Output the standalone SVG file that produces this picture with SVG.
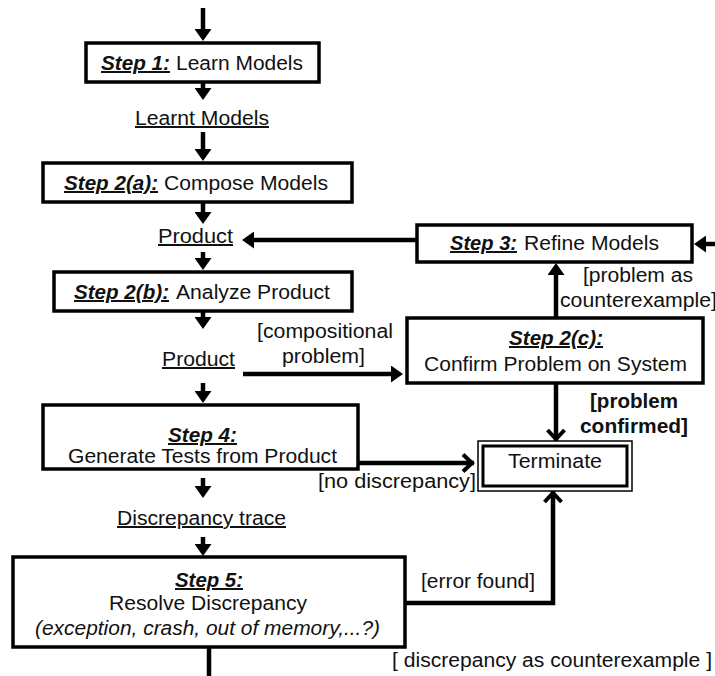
<svg xmlns="http://www.w3.org/2000/svg" width="715" height="676" viewBox="0 0 715 676">
<style>
  .bg{fill:#fff}
  .box{fill:#fff;stroke:#000;stroke-width:3.5}
  .t{font-family:"Liberation Sans",Arial,sans-serif;font-size:20px;fill:#111}
  .st{font-weight:bold;font-style:italic;text-decoration:underline}
  .u{text-decoration:underline}
  .b{font-weight:bold}
  .i{font-style:italic}
  .c{fill:none;stroke:#000;stroke-width:4.5}
</style>
<defs>
  <marker id="ah" viewBox="0 0 12 17" refX="2" refY="8.5" markerWidth="12" markerHeight="17" markerUnits="userSpaceOnUse" orient="auto">
    <path d="M0,0 L12,8.5 L0,17 z" fill="#000"/>
  </marker>
  <marker id="av" viewBox="0 0 14 20" refX="12" refY="10" markerWidth="14" markerHeight="20" markerUnits="userSpaceOnUse" orient="auto" overflow="visible">
    <path d="M1,1.5 L10,10 L1,18.5" fill="none" stroke="#000" stroke-width="4"/>
  </marker>
</defs>
<rect class="bg" x="0" y="0" width="715" height="676"/>

<g id="connectors">
  <line class="c" x1="203" y1="8" x2="203" y2="31" marker-end="url(#ah)"/>
  <line class="c" x1="203" y1="82" x2="203" y2="90" marker-end="url(#ah)"/>
  <line class="c" x1="203" y1="132" x2="203" y2="151" marker-end="url(#ah)"/>
  <line class="c" x1="203" y1="202" x2="203" y2="214" marker-end="url(#ah)"/>
  <line class="c" x1="203" y1="252" x2="203" y2="260" marker-end="url(#ah)"/>
  <line class="c" x1="203" y1="311" x2="203" y2="319" marker-end="url(#ah)"/>
  <line class="c" x1="203" y1="383" x2="203" y2="393" marker-end="url(#ah)"/>
  <line class="c" x1="203" y1="478" x2="203" y2="488" marker-end="url(#ah)"/>
  <line class="c" x1="203" y1="537" x2="203" y2="546" marker-end="url(#ah)"/>
  <line class="c" x1="417" y1="240" x2="252" y2="240" marker-end="url(#ah)"/>
  <line class="c" x1="715" y1="244" x2="704" y2="244" marker-end="url(#ah)"/>
  <line class="c" x1="556" y1="318" x2="556" y2="273" marker-end="url(#ah)"/>
  <line class="c" x1="243" y1="374" x2="393" y2="374" marker-end="url(#ah)"/>
  <line class="c" x1="556" y1="383" x2="556" y2="441" marker-end="url(#av)"/>
  <line class="c" x1="358" y1="463" x2="474" y2="463" marker-end="url(#av)"/>
  <polyline class="c" points="405,603 553,603 553,491" marker-end="url(#av)"/>
  <line class="c" x1="209" y1="647" x2="209" y2="676"/>
</g>

<g id="step1">
  <rect class="box" x="86" y="43" width="233" height="39"/>
  <text class="t st" x="101" y="70" textLength="69" lengthAdjust="spacingAndGlyphs">Step 1:</text>
  <text class="t" x="176" y="70" textLength="127" lengthAdjust="spacingAndGlyphs">Learn Models</text>
</g>
<g id="learnt-models">
  <text class="t u" x="135" y="125" textLength="134" lengthAdjust="spacingAndGlyphs">Learnt Models</text>
</g>
<g id="step2a">
  <rect class="box" x="43" y="163" width="309" height="39"/>
  <text class="t st" x="64" y="190" textLength="94" lengthAdjust="spacingAndGlyphs">Step 2(a):</text>
  <text class="t" x="164" y="190" textLength="164" lengthAdjust="spacingAndGlyphs">Compose Models</text>
</g>
<g id="product1">
  <text class="t u" x="158" y="243" textLength="75" lengthAdjust="spacingAndGlyphs">Product</text>
</g>
<g id="step2b">
  <rect class="box" x="54" y="272" width="298" height="39"/>
  <text class="t st" x="74" y="299" textLength="95" lengthAdjust="spacingAndGlyphs">Step 2(b):</text>
  <text class="t" x="176" y="299" textLength="154" lengthAdjust="spacingAndGlyphs">Analyze Product</text>
</g>
<g id="product2">
  <text class="t u" x="162" y="366" textLength="73" lengthAdjust="spacingAndGlyphs">Product</text>
</g>
<g id="label-compositional">
  <text class="t" x="257" y="338" textLength="136" lengthAdjust="spacingAndGlyphs">[compositional</text>
  <text class="t" x="282" y="363" textLength="83" lengthAdjust="spacingAndGlyphs">problem]</text>
</g>
<g id="step3">
  <rect class="box" x="417" y="225" width="275" height="37"/>
  <text class="t st" x="450" y="250" textLength="67" lengthAdjust="spacingAndGlyphs">Step 3:</text>
  <text class="t" x="524" y="250" textLength="135" lengthAdjust="spacingAndGlyphs">Refine Models</text>
</g>
<g id="label-problem-as">
  <text class="t" x="583" y="282" textLength="110" lengthAdjust="spacingAndGlyphs">[problem as</text>
  <text class="t" x="560" y="307" textLength="157" lengthAdjust="spacingAndGlyphs">counterexample]</text>
</g>
<g id="step2c">
  <rect class="box" x="407" y="318" width="296" height="65"/>
  <text class="t st" x="509" y="345" textLength="94" lengthAdjust="spacingAndGlyphs">Step 2(c):</text>
  <text class="t" x="424" y="371" textLength="263" lengthAdjust="spacingAndGlyphs">Confirm Problem on System</text>
</g>
<g id="label-problem-confirmed">
  <text class="t b" x="590" y="408" textLength="88" lengthAdjust="spacingAndGlyphs">[problem</text>
  <text class="t b" x="580" y="433" textLength="108" lengthAdjust="spacingAndGlyphs">confirmed]</text>
</g>
<g id="terminate">
  <rect x="478" y="441" width="154" height="50" fill="#fff" stroke="#000" stroke-width="1.5"/>
  <rect x="483" y="446" width="144" height="40" fill="none" stroke="#000" stroke-width="3"/>
  <text class="t" x="508" y="468" textLength="94" lengthAdjust="spacingAndGlyphs">Terminate</text>
</g>
<g id="step4">
  <rect class="box" x="43" y="405" width="315" height="64"/>
  <text class="t st" x="168" y="442" textLength="69" lengthAdjust="spacingAndGlyphs">Step 4:</text>
  <text class="t" x="68" y="463" textLength="269" lengthAdjust="spacingAndGlyphs">Generate Tests from Product</text>
</g>
<g id="label-no-discrepancy">
  <text class="t" x="318" y="488" textLength="158" lengthAdjust="spacingAndGlyphs">[no discrepancy]</text>
</g>
<g id="discrepancy-trace">
  <text class="t u" x="117" y="525" textLength="169" lengthAdjust="spacingAndGlyphs">Discrepancy trace</text>
</g>
<g id="step5">
  <rect class="box" x="13" y="557" width="392" height="90"/>
  <text class="t st" x="175" y="587" textLength="68" lengthAdjust="spacingAndGlyphs">Step 5:</text>
  <text class="t" x="109" y="610" textLength="198" lengthAdjust="spacingAndGlyphs">Resolve Discrepancy</text>
  <text class="t i" x="35" y="635" textLength="345" lengthAdjust="spacingAndGlyphs">(exception, crash, out of memory,...?)</text>
</g>
<g id="label-error-found">
  <text class="t" x="421" y="588" textLength="114" lengthAdjust="spacingAndGlyphs">[error found]</text>
</g>
<g id="label-discrepancy-counterexample">
  <text class="t" x="392" y="667" textLength="320" lengthAdjust="spacingAndGlyphs">[ discrepancy as counterexample ]</text>
</g>
</svg>
